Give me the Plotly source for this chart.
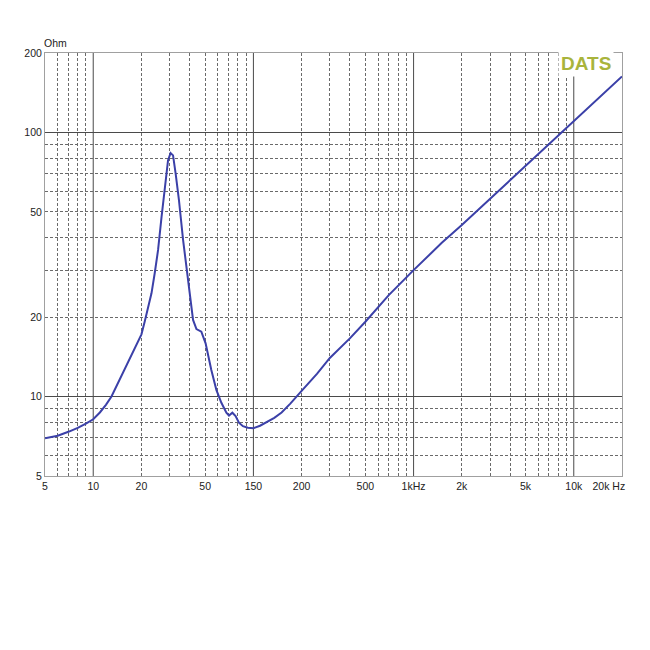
import math
import plotly.graph_objects as go

# ---- data ----
freq_hz = [5, 6, 7, 8, 9, 10, 11, 12, 13, 14, 15, 17, 18.6, 20, 21, 22, 23.1, 24.2, 25.4,
           26.7, 28, 29.3, 30.4, 31.5, 32.7, 34.3, 36.4, 38.5, 39.6, 42, 44.1, 47.3, 50.3,
           54.6, 58.7, 63.1, 67.8, 70.4, 73.9, 77.4, 81.2, 86, 92.4, 100, 110, 120, 135,
           150, 170, 200, 250, 300, 400, 500, 700, 1000, 1500, 2000, 3000, 5000, 7000,
           10000, 15000, 20000]
impedance_ohm = [6.95, 7.1, 7.35, 7.6, 7.9, 8.2, 8.7, 9.3, 10.0, 11.0, 12.0, 14.0, 15.7, 17.2,
                 19.3, 21.8, 24.6, 29.3, 35.9, 47.9, 62.4, 78.4, 83.6, 81.9, 69.8, 55.3, 39.1,
                 29.3, 25.4, 19.5, 18.0, 17.6, 15.9, 12.6, 10.6, 9.47, 8.68, 8.47, 8.68, 8.43,
                 7.96, 7.72, 7.62, 7.58, 7.75, 8.0, 8.3, 8.7, 9.4, 10.5, 12.2, 14.0, 16.6,
                 19.2, 24.2, 30.1, 38.2, 44.6, 56.0, 75.0, 90.6, 110, 138, 163]

x_tick_vals = [5, 10, 20, 50, 100, 200, 500, 1000, 2000, 5000, 10000, 20000]
x_tick_text = ["5", "10", "20", "50", "150", "200", "500", "1kHz", "2k", "5k", "10k",
               "20k Hz" + "\u00a0" * 9]
y_tick_vals = [5, 10, 20, 50, 100, 200]
y_tick_text = ["5", "10", "20", "50", "100", "200"]

x_minor_grid = [6, 7, 8, 9, 20, 30, 40, 50, 60, 70, 80, 90,
                200, 300, 400, 500, 600, 700, 800, 900,
                2000, 3000, 4000, 5000, 6000, 7000, 8000, 9000]
y_minor_grid = [6, 7, 8, 9, 20, 30, 40, 50, 60, 70, 80, 90]
x_major_grid = [10, 100, 1000, 10000]
y_major_grid = [10, 100]

x_range = [5, 20000]
y_range = [5, 200]
eps = 1e-4

fig = go.Figure()
fig.add_trace(go.Scatter(x=freq_hz, y=impedance_ohm, mode="lines",
                         line=dict(color="#3b40a8", width=2),
                         showlegend=False, hoverinfo="skip"))

dash = "3px,2px"
grid_minor_color = "#6a6a6a"
grid_major_color = "#4a4a4a"

shapes = []
for v in x_major_grid:
    shapes.append(dict(type="line", xref="x", yref="paper", x0=v, x1=v, y0=0, y1=1,
                       line=dict(color=grid_major_color, width=1), layer="below"))
for v in y_major_grid:
    shapes.append(dict(type="line", xref="paper", yref="y", x0=0, x1=1, y0=v, y1=v,
                       line=dict(color=grid_major_color, width=1), layer="below"))

font = dict(family="Liberation Sans, Arial, sans-serif", size=10.5, color="#222222")

# page body has an 8px default margin: figure is 642x642 placed at (8, 8)
fig.update_layout(
    width=642, height=642,
    margin=dict(l=37, r=28, t=45, b=174),
    paper_bgcolor="white", plot_bgcolor="white",
    font=font,
    shapes=shapes,
    xaxis=dict(type="log",
               range=[math.log10(x_range[0]) - eps, math.log10(x_range[1]) + eps],
               tickmode="array", tickvals=x_tick_vals, ticktext=x_tick_text,
               showgrid=False, zeroline=False, ticks="", ticklen=0, automargin=False,
               ticklabeloverflow="allow",
               showline=True, mirror=True, linecolor="#a0a0a0", linewidth=1,
               minor=dict(tickvals=x_minor_grid, showgrid=True, gridcolor=grid_minor_color,
                          griddash=dash, gridwidth=1, ticks=""),
               tickfont=font),
    yaxis=dict(type="log",
               range=[math.log10(y_range[0]) - eps, math.log10(y_range[1]) + eps],
               tickmode="array", tickvals=y_tick_vals, ticktext=y_tick_text,
               showgrid=False, zeroline=False, ticks="", ticklen=0, automargin=False,
               ticklabeloverflow="allow",
               showline=True, mirror=True, linecolor="#a0a0a0", linewidth=1,
               minor=dict(tickvals=y_minor_grid, showgrid=True, gridcolor=grid_minor_color,
                          griddash=dash, gridwidth=1, ticks=""),
               tickfont=font),
    annotations=[
        dict(text="Ohm", xref="paper", yref="paper", x=0, y=1, xanchor="left",
             yanchor="bottom", yshift=2, xshift=-3, showarrow=False, font=font),
        dict(text="<b>DATS</b>", xref="paper", yref="paper", x=0.938, y=0.975,
             xanchor="center", yanchor="middle", showarrow=False, bgcolor="white",
             borderpad=2,
             font=dict(family="Liberation Sans, Arial, sans-serif", size=19, color="#a9b43c")),
    ],
)

fig.write_html("out.html")
